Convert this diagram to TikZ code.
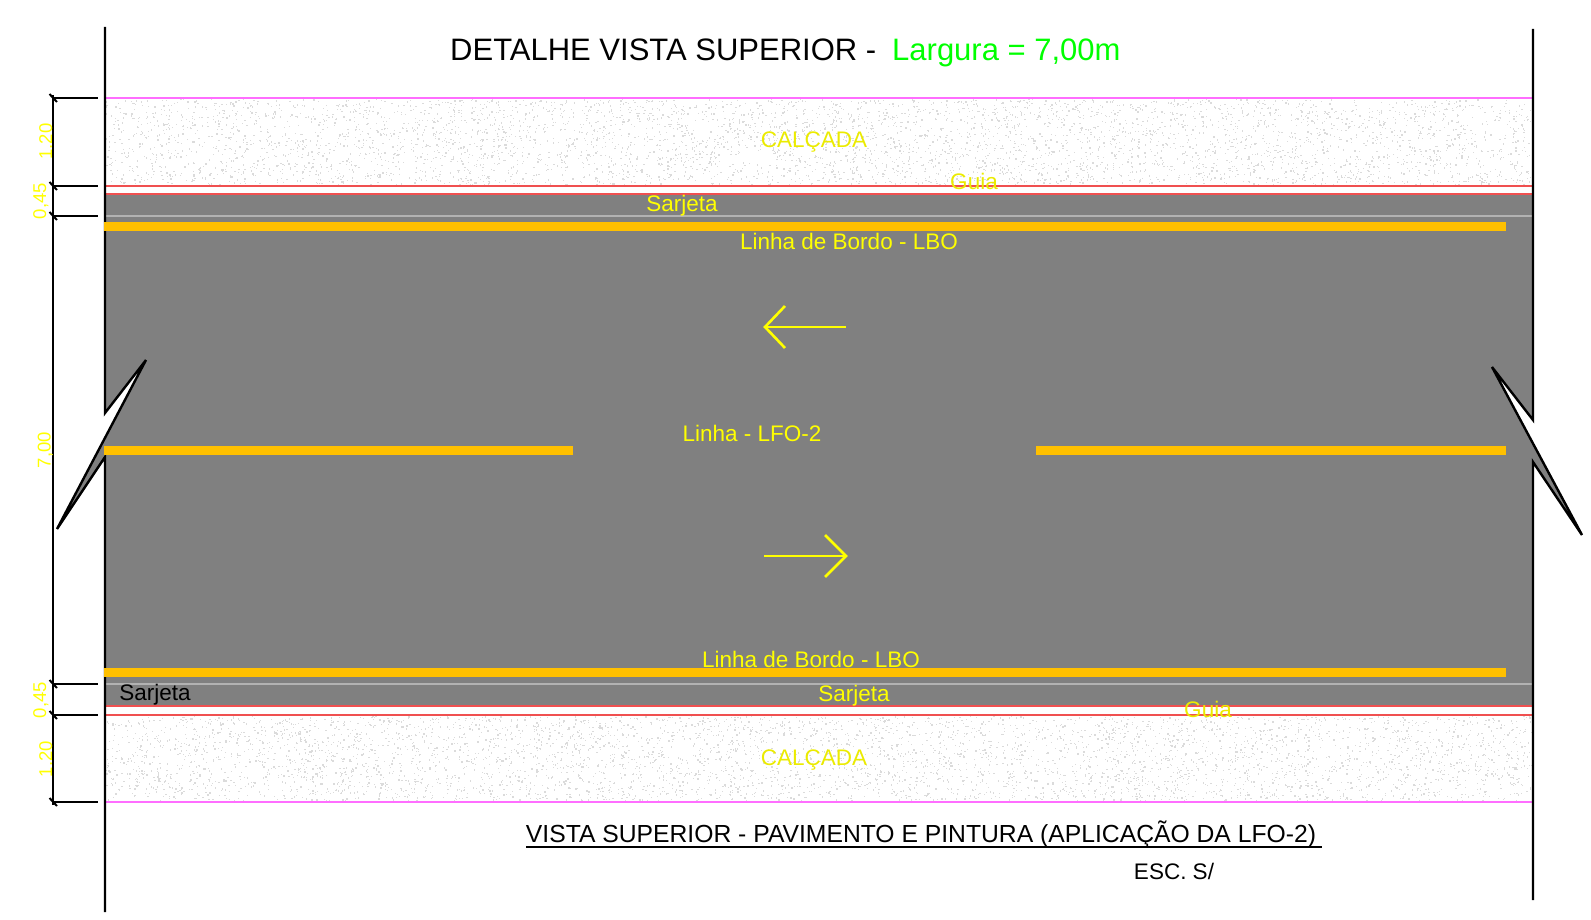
\documentclass[tikz,border=0pt]{standalone}
\usepackage{fontspec}
\setmainfont{Liberation Sans}
\definecolor{asphalt}{RGB}{128,128,128}
\definecolor{paint}{RGB}{255,192,0}
\definecolor{curb}{RGB}{240,80,80}
\definecolor{walk}{RGB}{255,110,255}
\definecolor{lettering}{RGB}{255,255,0}
\definecolor{title}{RGB}{0,255,0}
\begin{document}
\begin{tikzpicture}[x=1pt, y=-1pt, line cap=butt, lbl/.style={text=lettering, font=\fontsize{22.5}{22.5}\selectfont, inner sep=0pt}, dimlbl/.style={lbl, rotate=90, anchor=base, font=\fontsize{18.5}{18.5}\selectfont}, band/.style={fill=paint}, dimline/.style={draw=black, line width=2pt}, edge/.style={draw=black, line width=2.4pt, line join=miter}, flow/.style={draw=lettering, line width=2.6pt}]
  \useasboundingbox (0,0) rectangle (1591,920);
  \pgfmathsetseed{7}
  \foreach \i in {1,...,5000} {
    \pgfmathsetmacro{\dotx}{105+1427*rnd}
    \pgfmathsetmacro{\doty}{99+85*rnd}
    \fill[black!14] (\dotx,\doty) rectangle +(1.3,1.3);
    \pgfmathsetmacro{\dotx}{105+1427*rnd}
    \pgfmathsetmacro{\doty}{716+84*rnd}
    \fill[black!14] (\dotx,\doty) rectangle +(1.3,1.3);
  }
  \fill[asphalt] (105,194) rectangle (1533,706);
  \fill[white] (105,413) -- (146,360) -- (105,438) -- cycle;
  \fill[asphalt] (105,438) -- (57,529) -- (105,457) -- cycle;
  \fill[white] (1533,420) -- (1492,367) -- (1533,443.5) -- cycle;
  \fill[asphalt] (1533,443.5) -- (1582,535) -- (1533,462) -- cycle;

  \draw[walk, line width=1.6pt] (105,98) -- (1533,98);
  \draw[walk, line width=1.6pt] (105,802) -- (1533,802);
  \draw[curb, line width=1.6pt] (105,186) -- (1533,186);
  \draw[curb, line width=1.6pt] (105,194) -- (1533,194);
  \draw[curb, line width=1.6pt] (105,706) -- (1533,706);
  \draw[curb, line width=1.6pt] (105,715) -- (1533,715);
  \draw[black!30, line width=1.3pt] (105,216) -- (1533,216);
  \draw[black!30, line width=1.3pt] (105,684) -- (1533,684);

  \draw[edge] (105,27) -- (105,413) -- (146,360) -- (57,529) -- (105,457) -- (105,912);
  \draw[edge] (1533,29) -- (1533,420) -- (1492,367) -- (1582,535) -- (1533,462) -- (1533,900);

  \fill[band] (104,222) rectangle (1506,231);
  \fill[band] (104,668) rectangle (1506,677);
  \fill[band] (104,446) rectangle (573,455);
  \fill[band] (1036,446) rectangle (1506,455);

  \draw[dimline] (53,95) -- (53,805);
  \foreach \ypos in {98,186,216,684,715,802} {
    \draw[dimline] (53,\ypos) -- (98,\ypos);
    \draw[dimline] (49.5,\ypos-4) -- (57,\ypos+4);
  }

  \node[coordinate] (lefttail) at (846,327) {};
  \node[coordinate] (lefthead) at (765,327) {};
  \node[coordinate] (righttail) at (764,556) {};
  \node[coordinate] (righthead) at (846,556) {};
  \draw[flow] (lefttail) -- (lefthead);
  \draw[flow] (785,306) -- (lefthead) -- (785,348);
  \draw[flow] (righttail) -- (righthead);
  \draw[flow] (825,535) -- (righthead) -- (825,577);

  \node[inner sep=0pt, anchor=base west, font=\fontsize{31}{31}\selectfont] (title) at (450,61) {DETALHE VISTA SUPERIOR -};
  \node[inner sep=0pt, anchor=base west, text=title, font=\fontsize{31}{31}\selectfont] (width) at (892,61) {Largura = 7,00m};
  \node[lbl, text=lettering!92!black] (walktop) at (814,142) {CALÇADA};
  \node[lbl, text=lettering!92!black] (walkbot) at (814,760) {CALÇADA};
  \node[lbl, text=lettering!92!black] (curbtop) at (974,181) {Guia};
  \node[lbl, text=lettering!92!black] (curbbot) at (1208,709) {Guia};
  \node[lbl] (guttertop) at (682,206) {Sarjeta};
  \node[lbl] (gutterbot) at (854,696) {Sarjeta};
  \node[lbl, text=black] (gutterblk) at (155,695) {Sarjeta};
  \node[lbl] (edgetop) at (849,241) {Linha de Bordo - LBO};
  \node[lbl] (edgebot) at (811,659) {Linha de Bordo - LBO};
  \node[lbl] (centre) at (752,433) {Linha - LFO-2};
  \node[inner sep=0pt, font=\fontsize{24.7}{24.7}\selectfont] (caption) at (921,834) {VISTA SUPERIOR - PAVIMENTO E PINTURA (APLICAÇÃO DA LFO-2)};
  \draw[line width=1.2pt] (526,847) -- (1322,847);
  \node[inner sep=0pt, font=\fontsize{22.5}{22.5}\selectfont] (scalenote) at (1174,871) {ESC. S/};

  \node[dimlbl] (dima) at (52,141.5) {1.20};
  \node[dimlbl] (dimb) at (46,201) {0,45};
  \node[dimlbl] (dimc) at (50.5,450) {7,00};
  \node[dimlbl] (dimd) at (46,700) {0,45};
  \node[dimlbl] (dime) at (52,759) {1.20};
\end{tikzpicture}
\end{document}
